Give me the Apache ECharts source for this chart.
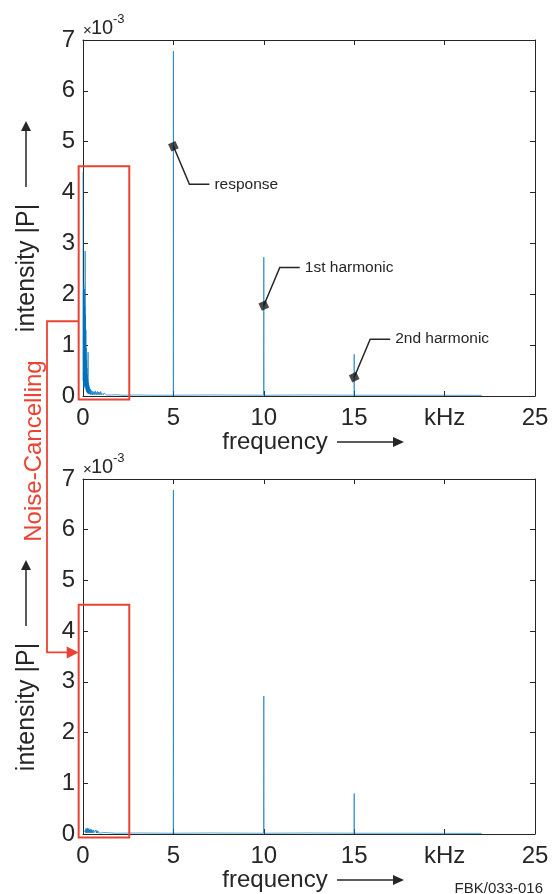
<!DOCTYPE html>
<html><head><meta charset="utf-8">
<script src="https://cdn.jsdelivr.net/npm/echarts@6/dist/echarts.min.js"></script>
<style>html,body{margin:0;padding:0;background:#fff}#c{width:555px;height:894px}</style>
</head><body><div id="c"></div>
<script>
// ---------- data ----------
const xTickLabels = ['0', '5', '10', '15', 'kHz', '25'];
const yTickLabels = ['0', '1', '2', '3', '4', '5', '6', '7'];

// raw spectrum (frequency in kHz, intensity |P| in 1e-3)
const rawFreq = [0.000,0.010,0.020,0.030,0.040,0.050,0.060,0.070,0.080,0.090,0.100,0.110,0.120,0.130,0.140,0.150,0.160,0.170,0.180,0.190,0.200,0.210,0.220,0.230,0.240,0.250,0.260,0.270,0.280,0.290,0.300,0.315,0.330,0.345,0.360,0.380,0.400,0.420,0.440,0.470,0.500,0.530,0.560,0.590,0.620,0.650,0.680,0.710,0.740,0.770,0.800,0.830,0.860,0.890,0.920,0.950,0.980,1.010,1.040,1.070,1.100,1.130,1.160,1.200,1.250,1.300,1.400,1.550,1.800,2.200,3.000,4.000,4.990,5.000,5.010,7.000,9.990,10.000,10.010,12.500,14.990,15.000,15.010,18.000,22.050];
const rawIntensity = [4.40,0.30,2.05,0.20,2.20,0.15,1.90,0.25,2.10,0.18,1.75,0.22,2.85,0.20,1.60,0.15,1.30,0.12,0.95,0.10,0.70,0.08,0.55,0.07,0.42,0.06,0.33,0.05,0.86,0.05,0.26,0.04,0.21,0.04,0.17,0.03,0.14,0.03,0.12,0.03,0.10,0.02,0.09,0.03,0.08,0.02,0.10,0.03,0.07,0.02,0.09,0.03,0.08,0.02,0.07,0.03,0.09,0.02,0.06,0.03,0.08,0.02,0.06,0.03,0.05,0.02,0.03,0.02,0.025,0.015,0.02,0.015,0.015,6.78,0.015,0.02,0.015,2.73,0.015,0.02,0.015,0.82,0.015,0.015,0.012];

// noise-cancelled spectrum
const ncFreq = [0.000,0.020,0.040,0.060,0.080,0.100,0.120,0.140,0.160,0.180,0.200,0.220,0.240,0.260,0.280,0.300,0.320,0.340,0.360,0.380,0.400,0.420,0.440,0.460,0.480,0.500,0.530,0.560,0.590,0.620,0.650,0.680,0.710,0.740,0.770,0.800,0.830,0.860,0.890,0.920,0.960,1.000,1.050,1.100,1.150,1.250,1.400,1.800,3.000,4.990,5.000,5.010,7.000,9.990,10.000,10.010,12.500,14.990,15.000,15.010,18.000,22.050];
const ncIntensity = [0.02,0.01,0.03,0.02,0.04,0.03,0.07,0.03,0.11,0.02,0.10,0.03,0.12,0.02,0.09,0.03,0.11,0.02,0.08,0.03,0.10,0.02,0.08,0.03,0.09,0.02,0.07,0.02,0.08,0.03,0.06,0.02,0.08,0.02,0.07,0.02,0.06,0.02,0.05,0.02,0.04,0.02,0.04,0.02,0.03,0.02,0.025,0.015,0.02,0.015,6.78,0.015,0.02,0.015,2.72,0.015,0.02,0.015,0.80,0.015,0.015,0.012];

// annotations on the raw spectrum
const annotationNames = ['response', '1st harmonic', '2nd harmonic'];
const annotationFreq = [5, 10, 15];
const annotationIntensity = [4.91, 1.78, 0.37];

// ---------- styles ----------
const FONT = "'Liberation Sans', Arial, Helvetica, sans-serif";
const INK = '#262626';
const BLUE = '#0072BD';
const RED = '#ea4335';

const chart = echarts.init(document.getElementById('c'), null, {renderer: 'canvas'});

function xAx(grid, pos) {
  return {
    type: 'value', gridIndex: grid, position: pos, min: 0, max: 25, interval: 5,
    axisLine: {show: true, onZero: false, lineStyle: {color: INK, width: 1}},
    axisTick: {show: true, inside: true, length: 5, lineStyle: {color: INK}},
    axisLabel: pos === 'bottom' ? {
      show: true, margin: 10, fontSize: 24, fontFamily: FONT, color: INK,
      formatter: v => xTickLabels[Math.round(v / 5)]
    } : {show: false},
    splitLine: {show: false}
  };
}
function yAx(grid, pos) {
  return {
    type: 'value', gridIndex: grid, position: pos, min: 0, max: 7, interval: 1,
    axisLine: {show: true, onZero: false, lineStyle: {color: INK, width: 1}},
    axisTick: {show: true, inside: true, length: 5, lineStyle: {color: INK}},
    axisLabel: pos === 'left' ? {
      show: true, margin: 8, fontSize: 24, fontFamily: FONT, color: INK,
      formatter: v => yTickLabels[Math.round(v)]
    } : {show: false},
    splitLine: {show: false}
  };
}
function pairs(f, v) { return f.map((x, i) => [x, v[i]]); }

chart.setOption({
  animation: false,
  backgroundColor: '#fff',
  grid: [
    {left: 83, top: 40, width: 452, height: 356},
    {left: 83, top: 479, width: 452, height: 355}
  ],
  xAxis: [xAx(0, 'bottom'), xAx(0, 'top'), xAx(1, 'bottom'), xAx(1, 'top')],
  yAxis: [yAx(0, 'left'), yAx(0, 'right'), yAx(1, 'left'), yAx(1, 'right')],
  series: [
    {type: 'line', xAxisIndex: 0, yAxisIndex: 0, data: pairs(rawFreq, rawIntensity),
     showSymbol: false, symbol: 'none', lineStyle: {color: BLUE, width: 0.65}, z: 3},
    {type: 'line', xAxisIndex: 2, yAxisIndex: 2, data: pairs(ncFreq, ncIntensity),
     showSymbol: false, symbol: 'none', lineStyle: {color: BLUE, width: 0.65}, z: 3},
    {type: 'scatter', xAxisIndex: 0, yAxisIndex: 0, data: pairs(annotationFreq, annotationIntensity),
     symbol: 'rect', symbolSize: 8, symbolRotate: 25, itemStyle: {color: '#1a1a1a'}, z: 6}
  ]
});

// ---------- decorations ----------
const g = [];
function txt(x, y, text, size, opts) {
  opts = opts || {};
  return {type: 'text', x: x, y: y, rotation: opts.rot || 0, z: 10,
    style: {text: text, fontSize: size, fontFamily: FONT, fill: opts.color || INK,
      align: opts.align || 'left', verticalAlign: opts.va || 'middle',
      textAlign: opts.align || 'left', textVerticalAlign: opts.va || 'middle'}};
}
function arrowV(x, yTop, yBottom, color) {
  g.push({type: 'line', shape: {x1: x, y1: yBottom, x2: x, y2: yTop + 8}, style: {stroke: color, lineWidth: 1.5}, z: 10});
  g.push({type: 'polygon', shape: {points: [[x, yTop], [x - 5, yTop + 10], [x + 5, yTop + 10]]}, style: {fill: color}, z: 10});
}
function arrowH(y, xLeft, xRight, color) {
  g.push({type: 'line', shape: {x1: xLeft, y1: y, x2: xRight - 8, y2: y}, style: {stroke: color, lineWidth: 1.5}, z: 10});
  g.push({type: 'polygon', shape: {points: [[xRight, y], [xRight - 11, y - 5], [xRight - 11, y + 5]]}, style: {fill: color}, z: 10});
}

const grids = [{x: 0, y: 0}, {x: 2, y: 2}];
grids.forEach((gi, k) => {
  const p0 = chart.convertToPixel({xAxisIndex: gi.x, yAxisIndex: gi.y}, [0, 0]);
  const p7 = chart.convertToPixel({xAxisIndex: gi.x, yAxisIndex: gi.y}, [0, 7]);
  const top = p7[1], bottom = p0[1], left = p0[0];
  // ×10^-3
  g.push(txt(left, top - 9, '×', 15, {}));
  g.push(txt(left + 8, top - 12, '10', 20, {}));
  g.push(txt(left + 30, top - 21, '-3', 13, {}));
  // y label
  const yc = top + 228;
  g.push(txt(27, yc, 'intensity |P|', 25, {rot: Math.PI / 2, align: 'center'}));
  arrowV(26, top + 81, top + 147, INK);
  // x label
  g.push(txt(275, bottom + 46, 'frequency', 24, {align: 'center'}));
  arrowH(bottom + 46, 337, 404, INK);
  // red box over low frequencies
  const a = chart.convertToPixel({xAxisIndex: gi.x, yAxisIndex: gi.y}, [-0.24, 4.52]);
  const b = chart.convertToPixel({xAxisIndex: gi.x, yAxisIndex: gi.y}, [2.56, -0.07]);
  g.push({type: 'rect', shape: {x: a[0], y: a[1], width: b[0] - a[0], height: b[1] - a[1]},
    style: {fill: null, stroke: RED, lineWidth: 2}, z: 9});
});

// connector from top box to bottom box
const c1 = chart.convertToPixel({xAxisIndex: 0, yAxisIndex: 0}, [-0.24, 1.47]);
const c2 = chart.convertToPixel({xAxisIndex: 2, yAxisIndex: 2}, [-0.24, 3.58]);
g.push({type: 'polyline', shape: {points: [[c1[0], c1[1]], [47, c1[1]], [47, c2[1]], [c2[0] - 10, c2[1]]]},
  style: {fill: null, stroke: RED, lineWidth: 1.8}, z: 9});
g.push({type: 'polygon', shape: {points: [[c2[0], c2[1]], [c2[0] - 12, c2[1] - 6], [c2[0] - 12, c2[1] + 6]]},
  style: {fill: RED}, z: 9});
g.push(txt(34, 451, 'Noise-Cancelling', 24, {rot: Math.PI / 2, align: 'center', color: RED}));

// annotation leaders
annotationNames.forEach((name, i) => {
  const p = chart.convertToPixel({xAxisIndex: 0, yAxisIndex: 0}, [annotationFreq[i], annotationIntensity[i]]);
  const dy = i === 0 ? 38 : -38;
  g.push({type: 'polyline', shape: {points: [[p[0], p[1]], [p[0] + 16, p[1] + dy], [p[0] + 36, p[1] + dy]]},
    style: {fill: null, stroke: INK, lineWidth: 1.5}, z: 5});
  g.push(txt(p[0] + 41, p[1] + dy, name, 15.5, {}));
});

g.push(txt(543, 889, 'FBK/033-016', 15, {align: 'right'}));

chart.setOption({graphic: {elements: g}});
</script>
</body></html>
